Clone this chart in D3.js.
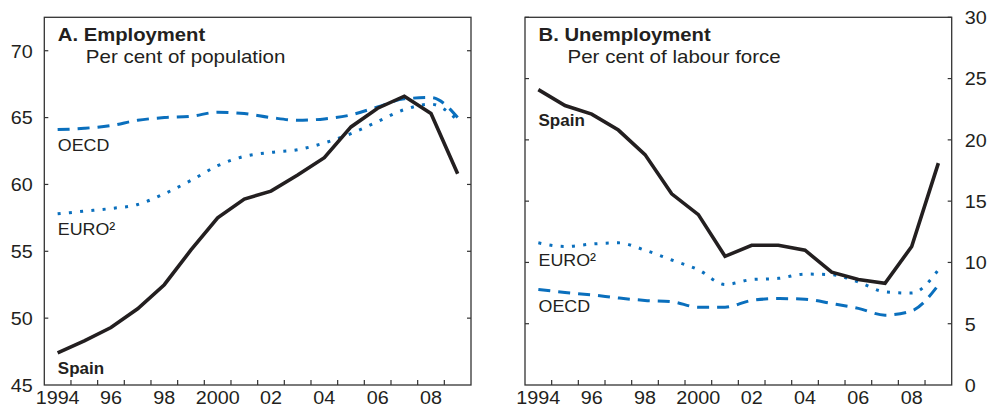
<!DOCTYPE html>
<html><head><meta charset="utf-8">
<script src="https://cdn.jsdelivr.net/npm/d3@7"></script>
<style>
body{margin:0;background:#fff;}
svg text{font-family:"Liberation Sans",Arial,Helvetica,sans-serif;fill:#231f20;}
</style></head>
<body><svg id="chart" width="990" height="407"></svg>
<script>
const years = d3.range(1994, 2010);
const xTickLabels = ["1994","96","98","2000","02","04","06","08"];
const xLabelYears = [1994,1996,1998,2000,2002,2004,2006,2008];

const empSpain = [47.4,48.3,49.3,50.7,52.5,55.1,57.5,58.9,59.5,60.7,62.0,64.3,65.7,66.6,65.3,60.8];
const empOECD  = [64.1,64.2,64.4,64.8,65.0,65.1,65.4,65.3,65.0,64.8,64.9,65.2,65.8,66.4,66.5,65.0];
const empEuro  = [57.8,58.0,58.2,58.5,59.3,60.3,61.4,62.1,62.4,62.6,63.1,63.8,64.7,65.6,66.0,64.8];
const empTicks = [45,50,55,60,65,70];

const unSpain = [24.1,22.8,22.1,20.8,18.8,15.6,13.9,10.5,11.4,11.4,11.0,9.2,8.6,8.3,11.3,18.1];
const unEuro  = [11.6,11.3,11.5,11.6,11.0,10.2,9.4,8.2,8.6,8.7,9.05,9.0,8.4,7.6,7.5,9.4];
const unOECD  = [7.8,7.55,7.35,7.1,6.9,6.8,6.35,6.35,6.9,7.05,7.0,6.65,6.25,5.7,6.05,8.15];
const unTicks = [0,5,10,15,20,25,30];

const svg = d3.select("#chart");
const BLUE = "#0a6fbd", BLACK = "#231f20";
const TICK_SX = 1.13, TICK_FS = 17.5;

function stext(g, x, y, str, fs, sx, bold){
  return g.append("text").attr("transform",`translate(${x},${y}) scale(${sx},1)`)
    .attr("font-size",fs).attr("font-weight",bold?"bold":"normal").text(str);
}

function panel(o){
  const g = svg.append("g");
  const x = d3.scaleBand().domain(years).range([o.x0, o.x1]).padding(0);
  const y = d3.scaleLinear().domain(o.yDomain).range([o.y1, o.y0]);
  const bw = x.bandwidth();
  g.append("rect").attr("x",o.x0).attr("y",o.y0).attr("width",o.x1-o.x0).attr("height",o.y1-o.y0)
    .attr("fill","none").attr("stroke","#333").attr("stroke-width",1.3);
  o.yTicks.forEach(t=>{
    if (t===o.yDomain[0]) return;
    g.append("line").attr("x1",o.x0).attr("x2",o.x0+4).attr("y1",y(t)).attr("y2",y(t)).attr("stroke","#333").attr("stroke-width",1.2);
    g.append("line").attr("x1",o.x1-4).attr("x2",o.x1).attr("y1",y(t)).attr("y2",y(t)).attr("stroke","#333").attr("stroke-width",1.2);
  });
  const pad = o.labelsRight ? 13 : 11.5;
  const yAxis = o.labelsRight ? d3.axisRight(y) : d3.axisLeft(y);
  const ya = g.append("g").attr("transform",`translate(${o.labelsRight?o.x1:o.x0},0)`)
    .call(yAxis.tickValues(o.yTicks).tickSize(0).tickPadding(pad));
  ya.select(".domain").remove();
  ya.selectAll("text").attr("font-size",TICK_FS).attr("dy","0.36em")
    .attr("x",(o.labelsRight?pad:-pad)/TICK_SX).attr("transform",`scale(${TICK_SX},1)`);
  years.slice(1).forEach(yr=>{
    g.append("line").attr("x1",x(yr)).attr("x2",x(yr)).attr("y1",o.y1).attr("y2",o.y1-5).attr("stroke","#333").attr("stroke-width",1.2);
  });
  const xa = g.append("g").attr("transform",`translate(0,${o.y1})`)
    .call(d3.axisBottom(x).tickValues(xLabelYears).tickSize(0).tickPadding(6.5)
      .tickFormat((d,i)=>xTickLabels[i]));
  xa.select(".domain").remove();
  xa.selectAll("text").attr("font-size",TICK_FS).attr("dy","0.71em").attr("transform",`scale(${TICK_SX},1)`);

  const cx = d => x(d)+bw/2;
  const lineSmooth = d3.line().x((d,i)=>cx(years[i])).y(d=>y(d)).curve(d3.curveMonotoneX);
  const lineStraight = d3.line().x((d,i)=>cx(years[i])).y(d=>y(d));
  g.append("path").attr("d",lineSmooth(o.oecd)).attr("fill","none").attr("stroke",BLUE)
    .attr("stroke-width",3).attr("stroke-dasharray","12,8");
  g.append("path").attr("d",lineSmooth(o.euro)).attr("fill","none").attr("stroke",BLUE)
    .attr("stroke-width",3).attr("stroke-dasharray","3,8.3");
  g.append("path").attr("d",lineStraight(o.spain)).attr("fill","none").attr("stroke",BLACK)
    .attr("stroke-width",3.6).attr("stroke-linejoin","miter");

  stext(g, o.x0+13.5, 40.5, o.title, 18.6, 1.09, true);
  stext(g, o.x0+o.subDx, 63, o.subtitle, 17.7, 1.16, false);
  o.labels.forEach(l=>{
    stext(g, o.x0+13.5, l.y, l.t, 17, l.bold?1.0:1.05, l.bold);
  });
}

panel({x0:44.3,x1:471,y0:17.3,y1:385,yDomain:[45,72.5],yTicks:empTicks,labelsRight:false,
  spain:empSpain,oecd:empOECD,euro:empEuro,
  title:"A. Employment",subtitle:"Per cent of population",subDx:41.5,
  labels:[{t:"OECD",y:150.5},{t:"EURO²",y:235},{t:"Spain",y:374,bold:true}]});
panel({x0:525,x1:951.7,y0:17.3,y1:385,yDomain:[0,30],yTicks:unTicks,labelsRight:true,
  spain:unSpain,oecd:unOECD,euro:unEuro,
  title:"B. Unemployment",subtitle:"Per cent of labour force",subDx:42.5,
  labels:[{t:"Spain",y:126,bold:true},{t:"EURO²",y:266},{t:"OECD",y:311.5}]});
</script></body></html>
